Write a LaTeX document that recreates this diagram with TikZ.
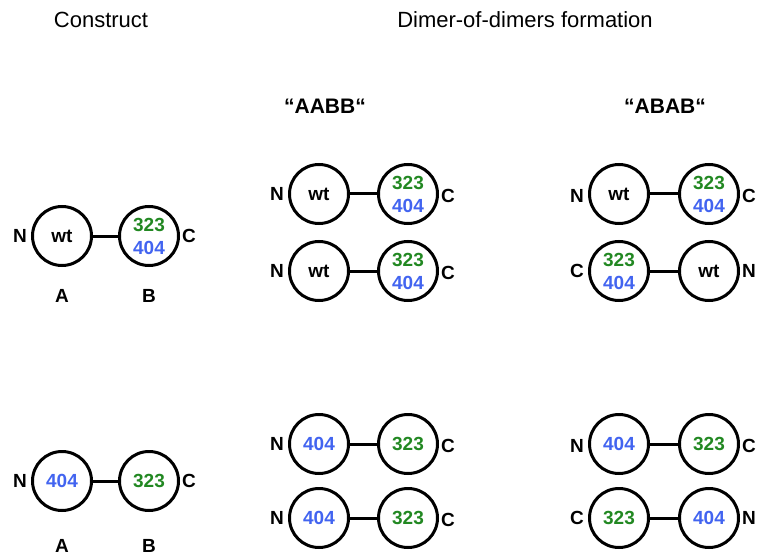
\documentclass[tikz,border=0pt]{standalone}
\usepackage{fontspec}
\setmainfont{Liberation Sans}
\definecolor{resgreen}{RGB}{34,136,34}
\definecolor{resblue}{RGB}{66,100,240}
\begin{document}
\begin{tikzpicture}[x=1pt,y=-1pt,
  dom/.style={circle,draw,line width=3pt,minimum size=59pt,inner sep=0pt,
    font=\fontsize{19}{23}\selectfont\bfseries,align=center},
  link/.style={line width=3pt},
  term/.style={font=\fontsize{19}{22}\selectfont\bfseries},
  title/.style={font=\fontsize{22}{26}\selectfont},
  group/.style={font=\fontsize{21}{24}\selectfont\bfseries}]
\useasboundingbox (0,0) rectangle (760,556);
\newcommand{\mixed}{{\color{resgreen}323}\\{\color{resblue}404}}
\newcommand{\gr}{\color{resgreen}323}
\newcommand{\bl}{\color{resblue}404}

% headings
\node[title] (hc) at (101,20) {Construct};
\node[title] (hd) at (525,20) {Dimer-of-dimers formation};
\node[group] (haabb) at (325,106) {“AABB“};
\node[group] (habab) at (665,106) {“ABAB“};

% construct, mutant B
\node[dom] (c1a) at (62,236) {wt};
\node[dom] (c1b) at (149,236) {\mixed};
\draw[link] (c1a) -- (c1b);
\node[term] (c1n) at (20,236) {N};
\node[term] (c1c) at (189,236) {C};
\node[term] (c1la) at (62,296) {A};
\node[term] (c1lb) at (149,296) {B};

% construct, split mutations
\node[dom] (c2a) at (62,481) {\bl};
\node[dom] (c2b) at (149,481) {\gr};
\draw[link] (c2a) -- (c2b);
\node[term] (c2n) at (20,481) {N};
\node[term] (c2c) at (189,481) {C};
\node[term] (c2la) at (62,546) {A};
\node[term] (c2lb) at (149,546) {B};

% AABB, top
\node[dom] (p1a) at (319,194) {wt};
\node[dom] (p1b) at (408,194) {\mixed};
\draw[link] (p1a) -- (p1b);
\node[term] (p1n) at (277,194) {N};
\node[term] (p1c) at (448,196) {C};
\node[dom] (p2a) at (319,271) {wt};
\node[dom] (p2b) at (408,271) {\mixed};
\draw[link] (p2a) -- (p2b);
\node[term] (p2n) at (277,271) {N};
\node[term] (p2c) at (448,273) {C};

% ABAB, top
\node[dom] (q1a) at (619,194) {wt};
\node[dom] (q1b) at (709,194) {\mixed};
\draw[link] (q1a) -- (q1b);
\node[term] (q1n) at (577,196) {N};
\node[term] (q1c) at (749,196) {C};
\node[dom] (q2a) at (619,271) {\mixed};
\node[dom] (q2b) at (709,271) {wt};
\draw[link] (q2a) -- (q2b);
\node[term] (q2c) at (577,271) {C};
\node[term] (q2n) at (749,271) {N};

% AABB, bottom
\node[dom] (r1a) at (319,444) {\bl};
\node[dom] (r1b) at (408,444) {\gr};
\draw[link] (r1a) -- (r1b);
\node[term] (r1n) at (277,444) {N};
\node[term] (r1c) at (448,446) {C};
\node[dom] (r2a) at (319,518) {\bl};
\node[dom] (r2b) at (408,518) {\gr};
\draw[link] (r2a) -- (r2b);
\node[term] (r2n) at (277,518) {N};
\node[term] (r2c) at (448,520) {C};

% ABAB, bottom
\node[dom] (s1a) at (619,444) {\bl};
\node[dom] (s1b) at (709,444) {\gr};
\draw[link] (s1a) -- (s1b);
\node[term] (s1n) at (577,446) {N};
\node[term] (s1c) at (749,446) {C};
\node[dom] (s2a) at (619,518) {\gr};
\node[dom] (s2b) at (709,518) {\bl};
\draw[link] (s2a) -- (s2b);
\node[term] (s2c) at (577,518) {C};
\node[term] (s2n) at (749,518) {N};
\end{tikzpicture}
\end{document}
